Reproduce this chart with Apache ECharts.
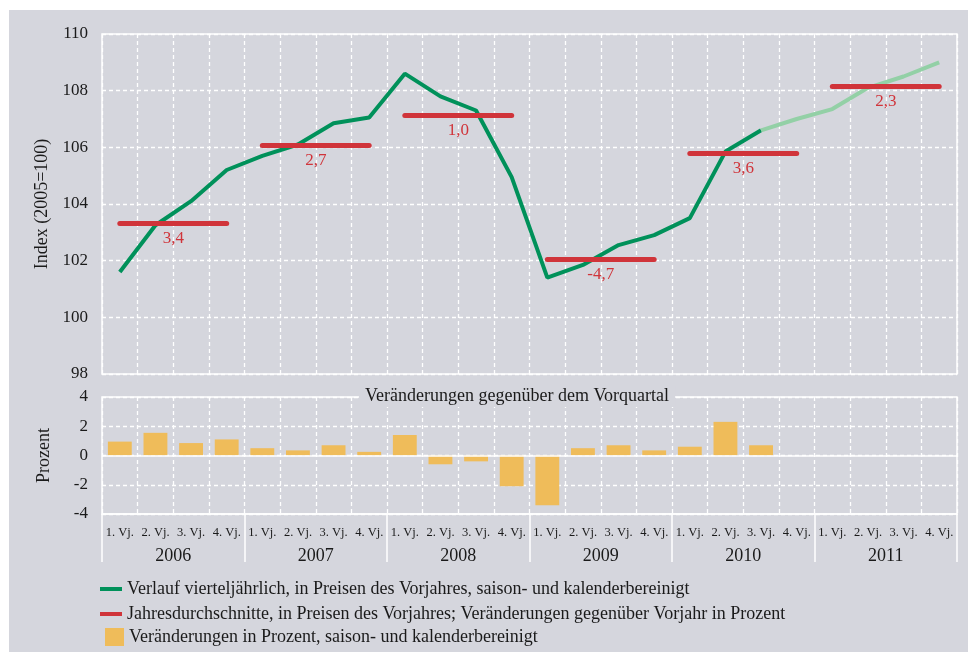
<!DOCTYPE html>
<html>
<head>
<meta charset="utf-8">
<script src="https://cdn.jsdelivr.net/npm/echarts@6/dist/echarts.min.js"></script>
<style>
  html, body { margin: 0; padding: 0; background: #ffffff; }
  #bg { position: absolute; left: 9px; top: 10px; width: 959px; height: 642px; background: #d5d6dd; }
  #chart { position: absolute; left: 0; top: 0; width: 968px; height: 652px; }
</style>
</head>
<body>
<div id="bg"></div>
<div id="chart"></div>
<script>
  // Jahre und Quartale
  const years = ['2006', '2007', '2008', '2009', '2010', '2011']
  const quarters = ['1. Vj.', '2. Vj.', '3. Vj.', '4. Vj.']

  // Index (2005=100), vierteljaehrlich, 1. Vj. 2006 bis 3. Vj. 2010
  const indexValues = [101.6, 103.25, 104.1, 105.2, 105.7, 106.1, 106.85, 107.05,
    108.6, 107.8, 107.3, 104.95, 101.4, 101.85, 102.55, 102.9, 103.5, 105.85, 106.6]
  // Prognose 3. Vj. 2010 bis 4. Vj. 2011
  const forecastValues = [106.6, 107.0, 107.35, 108.1, 108.5, 109.0]

  // Jahresdurchschnitte (Indexniveau) und Veraenderung gegenueber Vorjahr
  const annualAverage = [103.33, 106.08, 107.14, 102.06, 105.8, 108.16]
  const annualChange = ['3,4', '2,7', '1,0', '-4,7', '3,6', '2,3']

  // Veraenderungen gegenueber dem Vorquartal in Prozent
  const quarterChange = [0.95, 1.55, 0.85, 1.1, 0.5, 0.35, 0.7, 0.25,
    1.4, -0.6, -0.4, -2.1, -3.4, 0.5, 0.7, 0.35, 0.6, 2.3, 0.7]

  const nameLine = 'Verlauf vierteljährlich, in Preisen des Vorjahres, saison- und kalenderbereinigt'
  const nameAvg = 'Jahresdurchschnitte, in Preisen des Vorjahres; Veränderungen gegenüber Vorjahr in Prozent'
  const nameBar = 'Veränderungen in Prozent, saison- und kalenderbereinigt'

  const categories = []
  years.forEach(y => quarters.forEach(q => categories.push(y + ' ' + q)))

  const darkData = categories.map((c, i) => i < indexValues.length ? indexValues[i] : '-')
  const startForecast = categories.length - forecastValues.length
  const lightData = categories.map((c, i) => i >= startForecast ? forecastValues[i - startForecast] : '-')

  const annualLines = years.map((y, i) => [
    { name: annualChange[i], coord: [categories[i * 4], annualAverage[i]] },
    { coord: [categories[i * 4 + 3], annualAverage[i]] }
  ])

  const font = 'Liberation Serif'
  const textColor = '#1a1a1a'
  const white = '#ffffff'
  const dashed = { show: true, lineStyle: { color: white, type: [4, 3], width: 1.3 } }
  const legendText = { fontFamily: font, fontSize: 18, color: textColor }

  const chart = echarts.init(document.getElementById('chart'))
  chart.setOption({
    animation: false,
    textStyle: { fontFamily: font },
    title: {
      text: 'Veränderungen gegenüber dem Vorquartal',
      left: 359,
      top: 386,
      padding: [1, 6, 2, 6],
      backgroundColor: '#d5d6dd',
      textStyle: { fontFamily: font, fontSize: 18, fontWeight: 'normal', color: textColor }
    },
    legend: [
      {
        left: 100, top: 580, padding: 0, itemWidth: 22, itemHeight: 4,
        textStyle: legendText, data: [{ name: nameLine, icon: 'rect' }]
      },
      {
        left: 100, top: 605, padding: 0, itemWidth: 22, itemHeight: 4,
        textStyle: legendText, data: [{ name: nameAvg, icon: 'rect' }]
      },
      {
        left: 105, top: 628, padding: 0, itemWidth: 19, itemHeight: 18,
        textStyle: legendText, data: [{ name: nameBar, icon: 'rect' }]
      }
    ],
    grid: [
      { left: 102, right: 11, top: 34, height: 340, show: true, borderColor: white, borderWidth: 1.5 },
      { left: 102, right: 11, top: 397, height: 117, show: true, borderColor: white, borderWidth: 1.5 },
      { left: 102, right: 11, top: 397, height: 117 }
    ],
    xAxis: [
      {
        type: 'category', gridIndex: 0, data: categories, boundaryGap: true,
        axisLine: { show: false }, axisTick: { show: false }, axisLabel: { show: false },
        splitLine: Object.assign({ interval: 0 }, dashed)
      },
      {
        type: 'category', gridIndex: 1, data: categories, boundaryGap: true, position: 'bottom',
        axisLine: { show: true, onZero: false, lineStyle: { color: white, width: 1.5 } },
        axisTick: { show: false },
        axisLabel: {
          interval: 0, margin: 12, fontSize: 12.5, color: textColor,
          formatter: v => v.split(' ').slice(1).join(' ')
        },
        splitLine: Object.assign({ interval: 0 }, dashed)
      },
      {
        type: 'category', gridIndex: 2, data: years, boundaryGap: true, position: 'bottom',
        axisLine: { show: false, onZero: false },
        axisTick: { show: true, interval: 0, length: 48, lineStyle: { color: white, width: 1.5 } },
        axisLabel: { interval: 0, margin: 33, fontSize: 18, color: textColor },
        splitLine: { show: false }
      }
    ],
    yAxis: [
      {
        type: 'value', gridIndex: 0, min: 98, max: 110, interval: 2,
        name: 'Index (2005=100)', nameLocation: 'middle', nameGap: 49,
        nameTextStyle: { fontFamily: font, fontSize: 18, color: textColor },
        axisLine: { show: false }, axisTick: { show: false },
        axisLabel: { fontSize: 17, color: textColor, margin: 14 },
        splitLine: dashed
      },
      {
        type: 'value', gridIndex: 1, min: -4, max: 4, interval: 2,
        name: 'Prozent', nameLocation: 'middle', nameGap: 49,
        nameTextStyle: { fontFamily: font, fontSize: 18, color: textColor },
        axisLine: { show: false }, axisTick: { show: false },
        axisLabel: { fontSize: 17, color: textColor, margin: 14 },
        splitLine: dashed
      },
      {
        type: 'value', gridIndex: 2, min: -4, max: 4, show: false
      }
    ],
    series: [
      {
        name: nameLine,
        type: 'line', xAxisIndex: 0, yAxisIndex: 0, data: darkData,
        symbol: 'none', z: 3,
        itemStyle: { color: '#00915a' },
        lineStyle: { color: '#00915a', width: 4 }
      },
      {
        name: 'Prognose',
        type: 'line', xAxisIndex: 0, yAxisIndex: 0, data: lightData,
        symbol: 'none', z: 3,
        itemStyle: { color: '#93d0a6' },
        lineStyle: { color: '#93d0a6', width: 4 }
      },
      {
        name: nameAvg,
        type: 'line', xAxisIndex: 0, yAxisIndex: 0, data: [],
        symbol: 'none', z: 4,
        itemStyle: { color: '#d0343a' },
        lineStyle: { color: '#d0343a', width: 5 },
        markLine: {
          silent: true,
          symbol: ['none', 'none'],
          lineStyle: { color: '#d0343a', width: 5, type: 'solid', cap: 'round' },
          label: {
            show: true, position: 'insideMiddleBottom', distance: 7, formatter: '{b}',
            fontFamily: font, fontSize: 17, color: '#d0343a'
          },
          emphasis: { disabled: true },
          data: annualLines
        }
      },
      {
        name: nameBar,
        type: 'bar', xAxisIndex: 1, yAxisIndex: 1, data: quarterChange,
        barWidth: '67%',
        itemStyle: { color: '#efbc5a' },
        markLine: {
          silent: true,
          symbol: ['none', 'none'],
          label: { show: false },
          lineStyle: { color: white, width: 1.5, type: 'solid' },
          emphasis: { disabled: true },
          data: [{ yAxis: 0 }]
        }
      }
    ]
  })
</script>
</body>
</html>
